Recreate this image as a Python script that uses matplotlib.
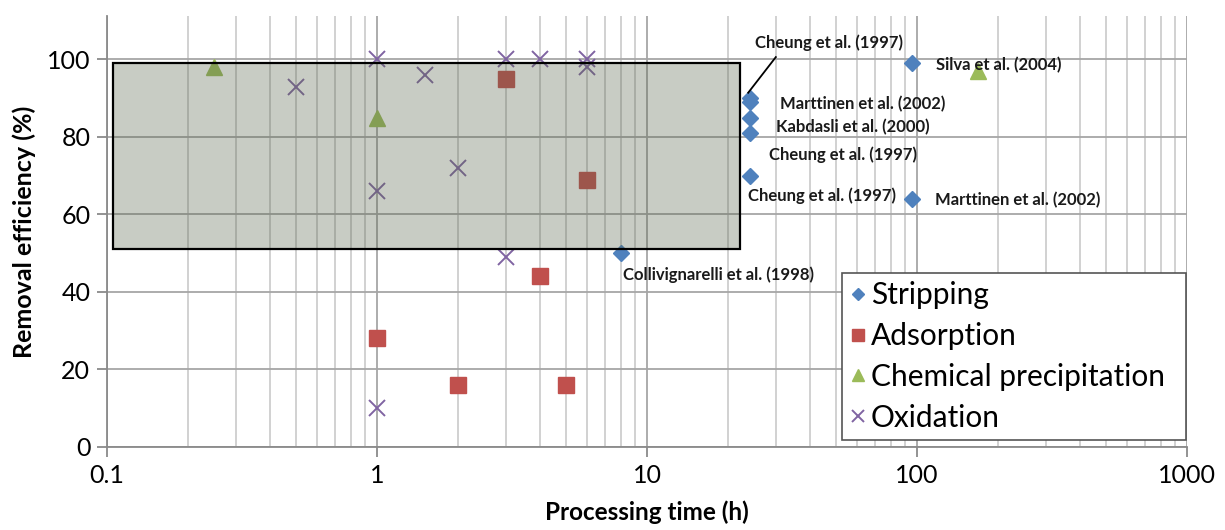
import matplotlib
matplotlib.use("Agg")
import matplotlib.pyplot as plt
from matplotlib.patches import Rectangle
from matplotlib.ticker import LogLocator, FixedLocator, NullFormatter

# ---- data ----
strip_x = [24, 24, 24, 24, 24, 8, 96, 96]
strip_y = [90, 89, 85, 81, 70, 50, 99, 64]
ads_x = [3, 6, 4, 1, 2, 5]
ads_y = [95, 69, 44, 28, 16, 16]
chem_x = [0.25, 1, 168]
chem_y = [98, 85, 97]
oxi_x = [0.5, 1, 1, 1, 1.5, 2, 3, 3, 4, 6, 6]
oxi_y = [93, 100, 66, 10, 96, 72, 100, 49, 100, 100, 98]

labels = ["Cheung et al. (1997)", "Silva et al. (2004)", "Marttinen et al. (2002)",
          "Kabdasli et al. (2000)", "Cheung et al. (1997)", "Cheung et al. (1997)",
          "Marttinen et al. (2002)", "Collivignarelli et al. (1998)"]
label_x = [25.1, 117.6, 31.1, 30.0, 28.3, 23.7, 116.6, 8.15]
label_y = [104.3, 98.6, 88.5, 82.6, 75.4, 64.8, 63.7, 44.4]

box_x = [0.105, 22.1]
box_y = [51, 99]

x_ticks = [0.1, 1, 10, 100, 1000]
x_ticklabels = ["0.1", "1", "10", "100", "1000"]
y_ticks = [0, 20, 40, 60, 80, 100]

# ---- figure ----
fig = plt.figure(figsize=(12.25, 5.3), dpi=100)
ax = fig.add_axes([107/1225, 83/530, 1080/1225, 431/530])
ax.set_xscale("log")
ax.set_xlim(0.1, 1000)
ax.set_ylim(0, 111.2)

FONT = "Lato"

ax.xaxis.set_major_locator(FixedLocator(x_ticks))
ax.set_xticklabels(x_ticklabels)
ax.xaxis.set_minor_locator(LogLocator(base=10, subs=range(2, 10)))
ax.xaxis.set_minor_formatter(NullFormatter())
ax.set_yticks(y_ticks)

ax.grid(True, which="major", axis="both", color="#a6a6a6", lw=1.3, zorder=0)
ax.grid(True, which="minor", axis="x", color="#c9c9c9", lw=1.2, zorder=0)
ax.set_axisbelow(True)

for s in ["top", "right"]:
    ax.spines[s].set_visible(False)
for s in ["left", "bottom"]:
    ax.spines[s].set_color("#8a8a8a")
    ax.spines[s].set_linewidth(1.3)
ax.tick_params(axis="both", which="major", length=7, width=1.3, color="#8a8a8a",
               labelsize=18, pad=5)
ax.tick_params(axis="x", which="minor", length=0)
for lab in ax.get_xticklabels() + ax.get_yticklabels():
    lab.set_fontfamily(FONT)

ax.set_xlabel("Processing time (h)", fontsize=17.5, fontweight="bold", family=FONT, labelpad=10)
ax.set_ylabel("Removal efficiency (%)", fontsize=18, fontweight="bold", family=FONT, labelpad=8)

# markers
ax.plot(strip_x, strip_y, ls="none", marker="D", ms=7.8, color="#4F81BD", label="Stripping", zorder=3)
ax.plot(ads_x, ads_y, ls="none", marker="s", ms=11, color="#C0504D", label="Adsorption", zorder=3)
ax.plot(chem_x, chem_y, ls="none", marker="^", ms=11, color="#9BBB59", label="Chemical precipitation", zorder=3)
ax.plot(oxi_x, oxi_y, ls="none", marker="x", ms=11, mew=1.4, color="#8064A2", label="Oxidation", zorder=3)

# shaded box overlay
rect = Rectangle((box_x[0], box_y[0]), box_x[1] - box_x[0], box_y[1] - box_y[0],
                 facecolor=(88/255, 100/255, 76/255, 0.33), edgecolor="black", lw=1.6, zorder=4)
ax.add_patch(rect)

# annotations
for t, x, y in zip(labels, label_x, label_y):
    ax.text(x, y, t, fontsize=12, fontweight="bold", family=FONT, color="#1a1a1a",
            ha="left", va="center", zorder=6)
ax.plot([30.0, 23.7], [100.6, 91.4], color="black", lw=1.3, zorder=6)

leg = ax.legend(loc="lower left", bbox_to_anchor=(0.6806, 0.0162, 0.3185, 0.38), mode="expand",
                prop={"family": FONT, "size": 21.5},
                frameon=True, fancybox=False, edgecolor="#555555", framealpha=1,
                handletextpad=0.18, handlelength=0.5, labelspacing=0.43, borderpad=0.28,
                borderaxespad=0, markerscale=0.8)
leg.get_frame().set_linewidth(1.2)
leg.set_zorder(7)

fig.savefig("out.png", dpi=100)
